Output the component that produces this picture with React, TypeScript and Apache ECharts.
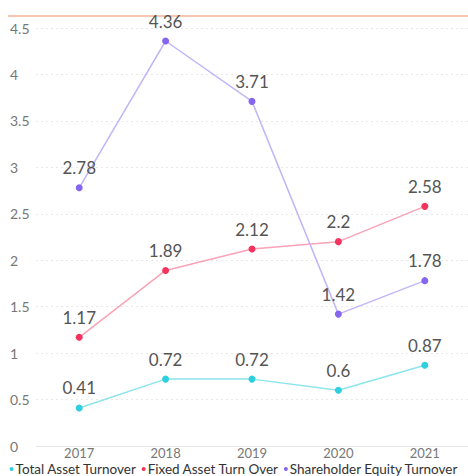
import React, { useEffect, useRef } from "react";
import * as echarts from "echarts";

const years = ["2017", "2018", "2019", "2020", "2021"];
const totalAsset = [0.41, 0.72, 0.72, 0.6, 0.87];
const fixedAsset = [1.17, 1.89, 2.12, 2.2, 2.58];
const equity = [2.78, 4.36, 3.71, 1.42, 1.78];

const FONT = "Lato, 'Noto Sans', sans-serif";

function mk(name: string, data: number[], pt: string, ln: string) {
  return {
    name,
    type: "line",
    data,
    symbol: "circle",
    symbolSize: 7,
    itemStyle: { color: pt },
    lineStyle: { color: ln, width: 1.5 },
    label: {
      show: true,
      position: "top",
      distance: 8,
      color: "#555",
      fontSize: 17,
      fontFamily: FONT,
    },
  };
}

export default function App() {
  const ref = useRef<HTMLDivElement>(null);
  useEffect(() => {
    const chart = echarts.init(ref.current!, null, { renderer: "svg" });
    chart.setOption({
      animation: false,
      textStyle: { fontFamily: FONT },
      grid: { left: 36, right: -8, top: 28, bottom: 30, containLabel: false },
      graphic: [
        {
          type: "line",
          shape: { x1: 8, y1: 16, x2: 468, y2: 16 },
          style: { stroke: "#f2b497", lineWidth: 1.5 },
        },
      ],
      legend: {
        top: 462,
        left: "center",
        padding: 0,
        itemWidth: 4,
        itemHeight: 4,
        itemGap: 5,
        icon: "circle",
        textStyle: {
          color: "#333",
          fontSize: 13.5,
          lineHeight: 12,
          fontFamily: FONT,
          padding: [0, 0, 0, -3],
        },
      },
      xAxis: {
        type: "category",
        data: years,
        boundaryGap: true,
        axisLine: { lineStyle: { color: "#e6e6e6" } },
        axisTick: { show: false },
        axisLabel: { color: "#777", fontSize: 13, lineHeight: 12, margin: 1, fontFamily: FONT },
      },
      yAxis: {
        type: "value",
        min: 0,
        max: 4.5,
        interval: 0.5,
        axisLine: { show: false },
        axisTick: { show: false },
        axisLabel: { color: "#777", fontSize: 14, align: "left", margin: 26, fontFamily: FONT },
        splitLine: { lineStyle: { color: "#e8e8e8", type: [2, 3] } },
      },
      series: [
        mk("Total Asset Turnover", totalAsset, "#2fd0de", "#8ce4ec"),
        mk("Fixed Asset Turn Over", fixedAsset, "#f5335f", "#f9a3b7"),
        mk("Shareholder Equity Turnover", equity, "#8566f0", "#c3b5f7"),
      ],
    });
    return () => chart.dispose();
  }, []);
  return <div ref={ref} style={{ width: 468, height: 476, position: "absolute", left: 0, top: 0 }} />;
}
